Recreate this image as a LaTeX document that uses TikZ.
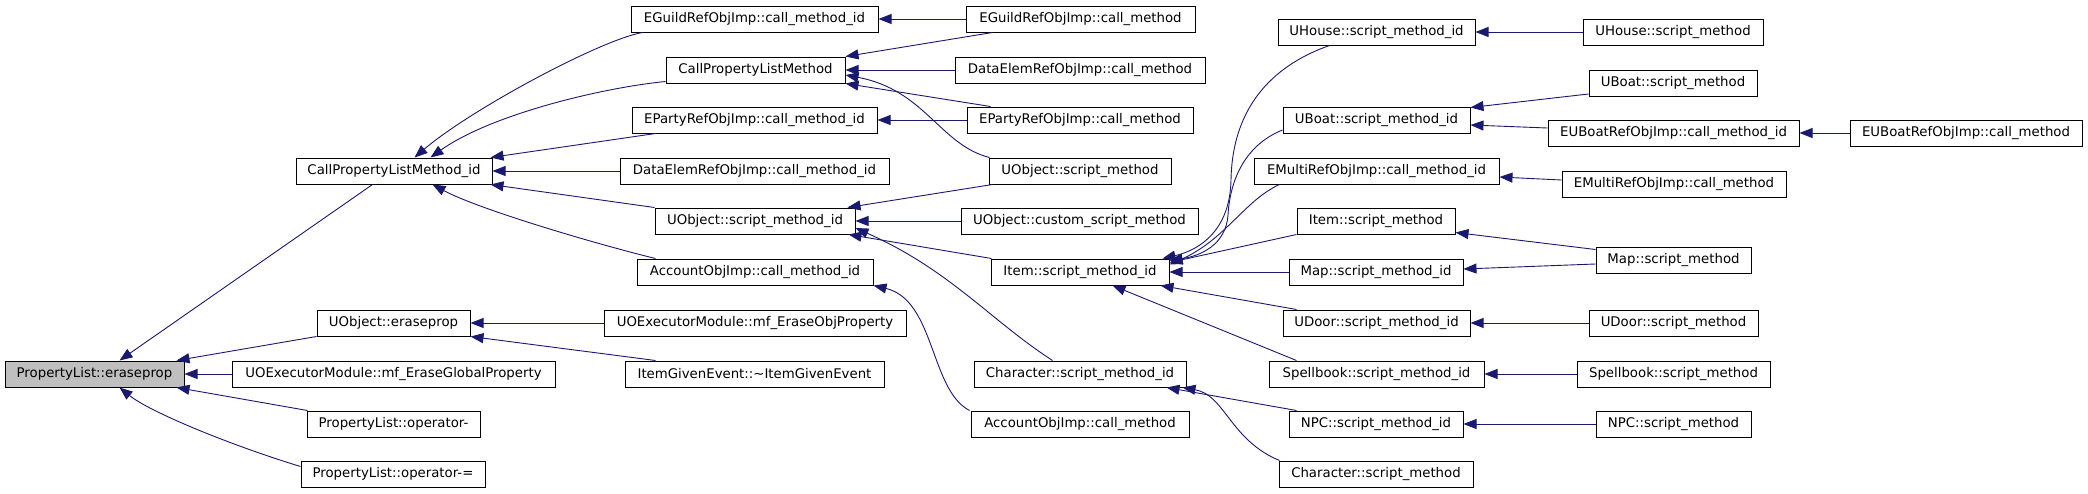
\documentclass[tikz,border=0pt]{standalone}
\usepackage{fontspec}
\setmainfont{DejaVu Sans}
\usetikzlibrary{arrows.meta,calc}
\definecolor{edgeblue}{HTML}{191970}
\definecolor{curfill}{HTML}{BFBFBF}
\begin{document}
\begin{tikzpicture}[x=1pt,y=-1pt,
  box/.style={draw=black, line width=1pt, fill=white, minimum height=26pt, inner sep=0pt,
              font=\fontsize{13.3pt}{16pt}\selectfont},
  link/.style={draw=edgeblue, line width=0.9pt, -{Triangle[length=13pt,width=10pt]}}]
\useasboundingbox (0,0) rectangle (2088,493);
% column 1
\node[box, fill=curfill, minimum width=179pt] (eraseprop) at (94.5,374) {PropertyList::eraseprop};
% column 2
\node[box, minimum width=196pt] (cplmid) at (394,171) {CallPropertyListMethod\_id};
\node[box, minimum width=153pt] (uoerase) at (393.5,323) {UObject::eraseprop};
\node[box, minimum width=323pt] (globalprop) at (393.5,374) {UOExecutorModule::mf\_EraseGlobalProperty};
\node[box, minimum width=173pt] (opminus) at (393.5,424) {PropertyList::operator-};
\node[box, minimum width=184pt] (opminuseq) at (393,474) {PropertyList::operator-=};
% column 3
\node[box, minimum width=247pt] (eguildid) at (754.5,19) {EGuildRefObjImp::call\_method\_id};
\node[box, minimum width=179pt] (cplm) at (755.5,70) {CallPropertyListMethod};
\node[box, minimum width=245pt] (epartyid) at (754.5,120) {EPartyRefObjImp::call\_method\_id};
\node[box, minimum width=269pt] (dataelemid) at (754.5,171) {DataElemRefObjImp::call\_method\_id};
\node[box, minimum width=200pt] (uoscriptid) at (755,221) {UObject::script\_method\_id};
\node[box, minimum width=236pt] (accountid) at (755,272) {AccountObjImp::call\_method\_id};
\node[box, minimum width=302pt] (eraseobj) at (755,323) {UOExecutorModule::mf\_EraseObjProperty};
\node[box, minimum width=259pt] (itemgiven) at (754.5,374) {ItemGivenEvent::\textasciitilde ItemGivenEvent};
% column 4
\node[box, minimum width=229pt] (eguildcm) at (1080.5,19) {EGuildRefObjImp::call\_method};
\node[box, minimum width=250pt] (dataelemcm) at (1080,70) {DataElemRefObjImp::call\_method};
\node[box, minimum width=226pt] (epartycm) at (1080,120) {EPartyRefObjImp::call\_method};
\node[box, minimum width=182pt] (uoscriptm) at (1080,171) {UObject::script\_method};
\node[box, minimum width=237pt] (uocustom) at (1079.5,221) {UObject::custom\_script\_method};
\node[box, minimum width=178pt] (itemid) at (1080,272) {Item::script\_method\_id};
\node[box, minimum width=212pt] (charid) at (1080,374) {Character::script\_method\_id};
\node[box, minimum width=218pt] (accountcm) at (1080,424) {AccountObjImp::call\_method};
% column 5
\node[box, minimum width=197pt] (uhouseid) at (1376.5,32) {UHouse::script\_method\_id};
\node[box, minimum width=187pt] (uboatid) at (1376.5,120) {UBoat::script\_method\_id};
\node[box, minimum width=245pt] (emultiid) at (1376.5,171) {EMultiRefObjImp::call\_method\_id};
\node[box, minimum width=158pt] (itemsm) at (1376,221) {Item::script\_method};
\node[box, minimum width=174pt] (mapid) at (1376,272) {Map::script\_method\_id};
\node[box, minimum width=187pt] (udoorid) at (1376.5,323) {UDoor::script\_method\_id};
\node[box, minimum width=215pt] (spellid) at (1376.5,374) {Spellbook::script\_method\_id};
\node[box, minimum width=174pt] (npcid) at (1376,424) {NPC::script\_method\_id};
\node[box, minimum width=194pt] (charsm) at (1376,474) {Character::script\_method};
% column 6
\node[box, minimum width=180pt] (uhousesm) at (1673,32) {UHouse::script\_method};
\node[box, minimum width=168pt] (uboatsm) at (1673,83) {UBoat::script\_method};
\node[box, minimum width=251pt] (euboatid) at (1673.5,133) {EUBoatRefObjImp::call\_method\_id};
\node[box, minimum width=224pt] (emulticm) at (1674,184) {EMultiRefObjImp::call\_method};
\node[box, minimum width=155pt] (mapsm) at (1673.5,260) {Map::script\_method};
\node[box, minimum width=169pt] (udoorsm) at (1673.5,323) {UDoor::script\_method};
\node[box, minimum width=193pt] (spellsm) at (1673.5,374) {Spellbook::script\_method};
\node[box, minimum width=155pt] (npcsm) at (1673.5,424) {NPC::script\_method};
% column 7
\node[box, minimum width=232pt] (euboatcm) at (1966,133) {EUBoatRefObjImp::call\_method};

% edges into PropertyList::eraseprop
\draw[link] ($(cplmid.south west)+(77,0)$) -- ($(eraseprop.north west)+(115,0)$);
\draw[link] (uoerase.south west) -- ($(eraseprop.north east)+(-8,0)$);
\draw[link] (globalprop.west) -- (eraseprop.east);
\draw[link] ($(opminus.north west)+(1,0)$) -- ($(eraseprop.south east)+(-8,0)$);
\draw[link] ($(opminuseq.north west)+(0,6)$) .. controls (230,445) and (150,412) .. ($(eraseprop.south west)+(115,0)$);
% edges into CallPropertyListMethod_id
\draw[link] ($(eguildid.south west)+(12,0)$) .. controls (600,40) and (470,110) .. ($(cplmid.north west)+(119,0)$);
\draw[link] ($(cplm.south west)+(0,-2)$) .. controls (600,88) and (490,115) .. ($(cplmid.north west)+(135,0)$);
\draw[link] ($(epartyid.south west)+(24,0)$) -- ($(cplmid.north east)+(-2,0)$);
\draw[link] (dataelemid.west) -- (cplmid.east);
\draw[link] (uoscriptid.north west) -- ($(cplmid.south east)+(-2,0)$);
\draw[link] ($(accountid.north west)+(19,0)$) .. controls (600,245) and (480,210) .. ($(cplmid.south west)+(137,0)$);
% edges into UObject::eraseprop
\draw[link] (eraseobj.west) -- (uoerase.east);
\draw[link] ($(itemgiven.north west)+(31,0)$) -- (uoerase.south east);
% column 4 -> column 3
\draw[link] (eguildcm.west) -- (eguildid.east);
\draw[link] ($(eguildcm.south west)+(27,0)$) -- (cplm.north east);
\draw[link] (dataelemcm.west) -- (cplm.east);
\draw[link] ($(epartycm.north west)+(24,0)$) -- (cplm.south east);
\draw[link] ($(uoscriptm.north west)+(1,0)$) .. controls (940,145) and (925,90) .. ($(cplm.east)+(0,5)$);
\draw[link] (epartycm.west) -- (epartyid.east);
\draw[link] ($(uoscriptm.south west)+(4,0)$) -- ($(uoscriptid.north east)+(-8,0)$);
\draw[link] (uocustom.west) -- (uoscriptid.east);
\draw[link] ($(itemid.north west)+(1,0)$) -- ($(uoscriptid.south east)+(-7,0)$);
\draw[link] ($(charid.north west)+(79,0)$) .. controls (990,320) and (950,270) .. ($(uoscriptid.east)+(0,7)$);
\draw[link] ($(accountcm.north west)+(-1,0)$) .. controls (930,390) and (935,300) .. (accountid.south east);
% column 5 -> Item::script_method_id
\draw[link] ($(uhouseid.south west)+(52,0)$) .. controls (1260,70) and (1232,120) .. (1231,180)
   .. controls (1230,230) and (1200,250) .. ($(itemid.north east)+(-7,0)$);
\draw[link] ($(uboatid.west)+(0,10)$) .. controls (1245,145) and (1230,180) .. (1228,215)
   .. controls (1226,245) and (1200,256) .. ($(itemid.north east)+(0,2)$);
\draw[link] ($(emultiid.south west)+(26,0)$) .. controls (1245,200) and (1225,240) .. ($(itemid.north east)+(0,6)$);
\draw[link] (itemsm.south west) -- ($(itemid.north east)+(0,4)$);
\draw[link] (mapid.west) -- (itemid.east);
\draw[link] ($(udoorid.north west)+(14,0)$) -- ($(itemid.south east)+(-9,0)$);
\draw[link] ($(spellid.north west)+(28,0)$) -- ($(itemid.south west)+(122,0)$);
% column 5 -> Character::script_method_id
\draw[link] ($(npcid.north west)+(8,0)$) -- ($(charid.south east)+(-20,0)$);
\draw[link] ($(charsm.north west)+(1,0)$) .. controls (1230,440) and (1225,395) .. ($(charid.south east)+(-4,0)$);
% column 6 -> column 5
\draw[link] (uhousesm.west) -- (uhouseid.east);
\draw[link] ($(uboatsm.west)+(0,11)$) -- ($(uboatid.north east)+(0,1)$);
\draw[link] ($(euboatid.west)+(0,-5)$) -- ($(uboatid.east)+(0,5)$);
\draw[link] (euboatcm.west) -- (euboatid.east);
\draw[link] ($(emulticm.west)+(0,-4)$) -- ($(emultiid.east)+(0,6)$);
\draw[link] ($(mapsm.north west)+(0,3)$) -- ($(itemsm.south east)+(0,-2)$);
\draw[link] ($(mapsm.west)+(0,4)$) -- ($(mapid.east)+(0,-3)$);
\draw[link] (udoorsm.west) -- (udoorid.east);
\draw[link] (spellsm.west) -- (spellid.east);
\draw[link] (npcsm.west) -- (npcid.east);
\end{tikzpicture}
\end{document}
